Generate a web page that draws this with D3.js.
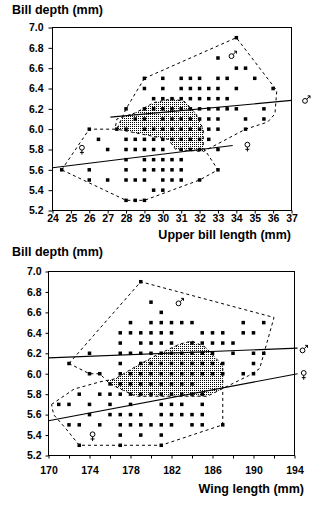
<!DOCTYPE html>
<html><head><meta charset="utf-8">
<script src="https://cdn.jsdelivr.net/npm/d3@7"></script>
<style>
body{margin:0;background:#fff}
svg{display:block}
text{font-family:"Liberation Sans",Arial,Helvetica,sans-serif}
</style></head>
<body><svg id="c" width="333" height="518"></svg>
<script>
// ---------- DATA: upper panel (bill depth vs upper bill length) ----------
const upperDepths = [6.9,6.7,6.6,6.5,6.4,6.3,6.2,6.1,6.0,5.9,5.8,5.7,5.6,5.5,5.4,5.3];
const upperLengths = [
  [34],
  [33],
  [34,34.5],
  [29,30,31,31.5,32,33,33.5,35],
  [29,30,31,31.5,32,32.5,33,34,36],
  [29.5,30,30.5,31,31.5,32,32.5,33,33.5],
  [28,29,29.5,30,30.5,31,31.5,32,32.5,33,33.5,34,35.5],
  [28.5,29,30,30.5,31,31.5,32,32.5,33,34.5,35.5],
  [26,27.5,28,29,29.5,30,30.5,31,31.5,32,32.5,33,34.5],
  [26.5,28,28.5,29,29.5,30,30.5,31,31.5,32,32.5],
  [27,28,28.5,29,29.5,30,31,31.5,32,33],
  [28,29,29.5,30,30.5,31],
  [24.5,26,28,29,29.5,30,30.5,31,33],
  [26,27,28,28.5,29,30,30.5,31,32],
  [29.5,30],
  [28,28.5,29]
];
const upperMaleHull = [[29,6.5],[34,6.9],[36.2,6.38],[36.1,6.15],[35.7,6.07],[34.5,6.0],[32.2,5.78],[30.7,5.8],[30.3,5.9],[27.5,6.0],[28,6.2]];
const upperFemaleHull = [[24.5,5.6],[26,6.0],[27.4,6.0],[27.5,6.1],[28.5,6.16],[29.5,6.26],[30.5,6.3],[31.2,6.27],[31.8,6.15],[32.2,6.0],[32.2,5.82],[33,5.6],[32,5.5],[29,5.3],[28,5.3]];
const upperMaleLine = [[27.15,6.118],[37,6.283]];
const upperFemaleLine = [[24,5.62],[33.8,5.84]];
const upperXTicks = [24,25,26,27,28,29,30,31,32,33,34,35,36,37];
const upperSymbols = [["m",33.8,6.73],["f",25.6,5.80],["f",34.6,5.83],["m",37.8,6.29]];

// ---------- DATA: lower panel (bill depth vs wing length) ----------
const lowerDepths = [6.9,6.7,6.6,6.5,6.4,6.3,6.2,6.1,6.0,5.9,5.8,5.7,5.6,5.5,5.4,5.3];
const lowerWings = [
  [179],
  [180],
  [181],
  [178,180,181,182,183,184,189,191],
  [177,178,179,180,181,182,185,186,187,189,190],
  [177,179,180,181,182,184,185,186,187,188],
  [174,177,178,179,180,181,182,183,184,185,186,188,190,191],
  [172,177,179,180,181,182,183,184,185,186,187,190],
  [174,175,177,178,179,180,181,182,183,184,185,186,187,189,190],
  [176,177,178,179,180,181,182,183,184],
  [173,175,176,177,178,179,180,181,182,183,184,185],
  [171,172,174,176,178,181,182,183,185],
  [174,176,177,178,179,181,182,183,184,185],
  [172,173,175,177,178,179,180,181,182,184,185,187],
  [177,179,181],
  [173,177,181]
];
const lowerMaleHull = [[172,6.1],[179,6.9],[192,6.55],[190.6,6.05],[189.5,5.98],[185.5,5.78],[178.5,5.78],[176,5.9],[175,6.0],[174,6.0]];
const lowerFemaleHull = [[170.3,5.7],[172.5,5.85],[175,5.92],[176.5,5.95],[178.5,6.07],[180.5,6.18],[182.8,6.29],[184,6.32],[185.3,6.26],[187,6.08],[187,5.5],[181,5.3],[173,5.3],[171.8,5.45],[170.5,5.6]];
const lowerMaleLine = [[170,6.155],[194.3,6.25]];
const lowerFemaleLine = [[170,5.54],[194.3,6.0]];
const lowerXTicks = [170,172,174,176,178,180,182,184,186,188,190,192,194];
const lowerXLabels = [170,174,178,182,186,190,194];
const lowerSymbols = [["m",182.8,6.70],["f",174.3,5.39],["m",194.9,6.24],["f",194.9,5.99]];

const depthTicks = [5.2,5.4,5.6,5.8,6.0,6.2,6.4,6.6,6.8,7.0];

// ---------- DRAW ----------
const svg = d3.select("#c");
const defs = svg.append("defs");
const pat = defs.append("pattern").attr("id","stip").attr("width",2).attr("height",2)
  .attr("patternUnits","userSpaceOnUse");
pat.append("rect").attr("width",1).attr("height",1).attr("fill","#000");

function flatten(depths, rows){
  const out=[];
  depths.forEach((d,i)=>rows[i].forEach(v=>out.push([v,d])));
  return out;
}

// sex symbols drawn as small glyph paths (male = ♂, female = ♀)
function drawSymbol(g, kind, cx, cy){
  const s = g.append("g").attr("transform",`translate(${cx},${cy})`)
    .attr("fill","none").attr("stroke","#000").attr("stroke-width",1);
  if(kind==="m"){
    s.append("circle").attr("cx",-1.2).attr("cy",1.2).attr("r",2.4);
    s.append("path").attr("d","M0.6,-0.6L3.8,-3.8M1.4,-3.8L3.8,-3.8L3.8,-1.4");
  } else {
    s.append("circle").attr("cx",0).attr("cy",-1.8).attr("r",2.4);
    s.append("path").attr("d","M0,0.6L0,5M-2,2.9L2,2.9");
  }
}

function panel(o){
  const x = d3.scaleLinear().domain(o.xDomain).range(o.xRange);
  const y = d3.scaleLinear().domain([5.2,7.0]).range(o.yRange);
  const g = svg.append("g");
  const line = d3.line().x(d=>x(d[0])).y(d=>y(d[1]));

  defs.append("clipPath").attr("id",o.id+"clip").append("path").attr("d",line(o.male)+"Z");
  g.append("path").attr("d",line(o.female)+"Z").attr("fill","url(#stip)")
    .attr("clip-path",`url(#${o.id}clip)`);
  [o.male,o.female].forEach(h=>{
    g.append("path").attr("d",line(h)+"Z").attr("fill","none").attr("stroke","#000")
      .attr("stroke-width",1).attr("stroke-dasharray","3,3");
  });
  [o.mLine,o.fLine].forEach(l=>{
    g.append("path").attr("d",line(l)).attr("fill","none").attr("stroke","#000").attr("stroke-width",1.1);
  });
  g.selectAll("rect.pt").data(o.points).join("rect").attr("class","pt")
    .attr("x",d=>x(d[0])-1.75).attr("y",d=>y(d[1])-1.75).attr("width",3.5).attr("height",3.5).attr("fill","#000");

  // frame
  g.append("rect").attr("x",o.xRange[0]).attr("y",o.yRange[1])
    .attr("width",o.xRange[1]-o.xRange[0]).attr("height",o.yRange[0]-o.yRange[1])
    .attr("fill","none").attr("stroke","#000").attr("stroke-width",1);

  const ax = g.append("g").attr("transform",`translate(${o.xRange[0]},0)`)
    .call(d3.axisLeft(y).tickValues(depthTicks).tickSize(o.yTickSize).tickPadding(o.yPad).tickFormat(d3.format(".1f")));
  const bx = g.append("g").attr("transform",`translate(0,${o.yRange[0]})`)
    .call(d3.axisBottom(x).tickValues(o.xTicks).tickSize(3).tickPadding(o.xPad)
      .tickFormat(d=>o.xLabels.includes(d)?d:""));
  [ax,bx].forEach(a=>{
    a.select(".domain").remove();
    a.selectAll("text").attr("font-family","'Liberation Sans',Arial,sans-serif")
      .attr("font-weight","bold").attr("font-size","10.5px").attr("fill","#000");
    a.selectAll("line").attr("stroke","#000");
  });

  g.append("text").attr("x",12).attr("y",o.titleY).text("Bill depth (mm)")
    .attr("font-weight","bold").attr("font-size","12.5px");
  g.append("text").attr("x",o.xTitleX).attr("y",o.xTitleY).attr("text-anchor","end").text(o.xTitle)
    .attr("font-weight","bold").attr("font-size","12.5px");

  o.symbols.forEach(d=>drawSymbol(g, d[0], x(d[1]), y(d[2])));
}

panel({
  id:"up", xDomain:[24,37], xRange:[52.5,291.5], yRange:[210.5,27.5],
  points:flatten(upperDepths,upperLengths), male:upperMaleHull, female:upperFemaleHull,
  mLine:upperMaleLine, fLine:upperFemaleLine, xTicks:upperXTicks, xLabels:upperXTicks,
  yTickSize:4, yPad:5, xPad:1.5, titleY:13.5, xTitle:"Upper bill length (mm)", xTitleX:291, xTitleY:239,
  symbols:upperSymbols
});
panel({
  id:"lo", xDomain:[170,194], xRange:[48.5,294.5], yRange:[455.5,271.5],
  points:flatten(lowerDepths,lowerWings), male:lowerMaleHull, female:lowerFemaleHull,
  mLine:lowerMaleLine, fLine:lowerFemaleLine, xTicks:lowerXTicks, xLabels:lowerXLabels,
  yTickSize:3, yPad:4, xPad:8.5, titleY:256, xTitle:"Wing length (mm)", xTitleX:304, xTitleY:493,
  symbols:lowerSymbols
});
</script>
</body></html>
